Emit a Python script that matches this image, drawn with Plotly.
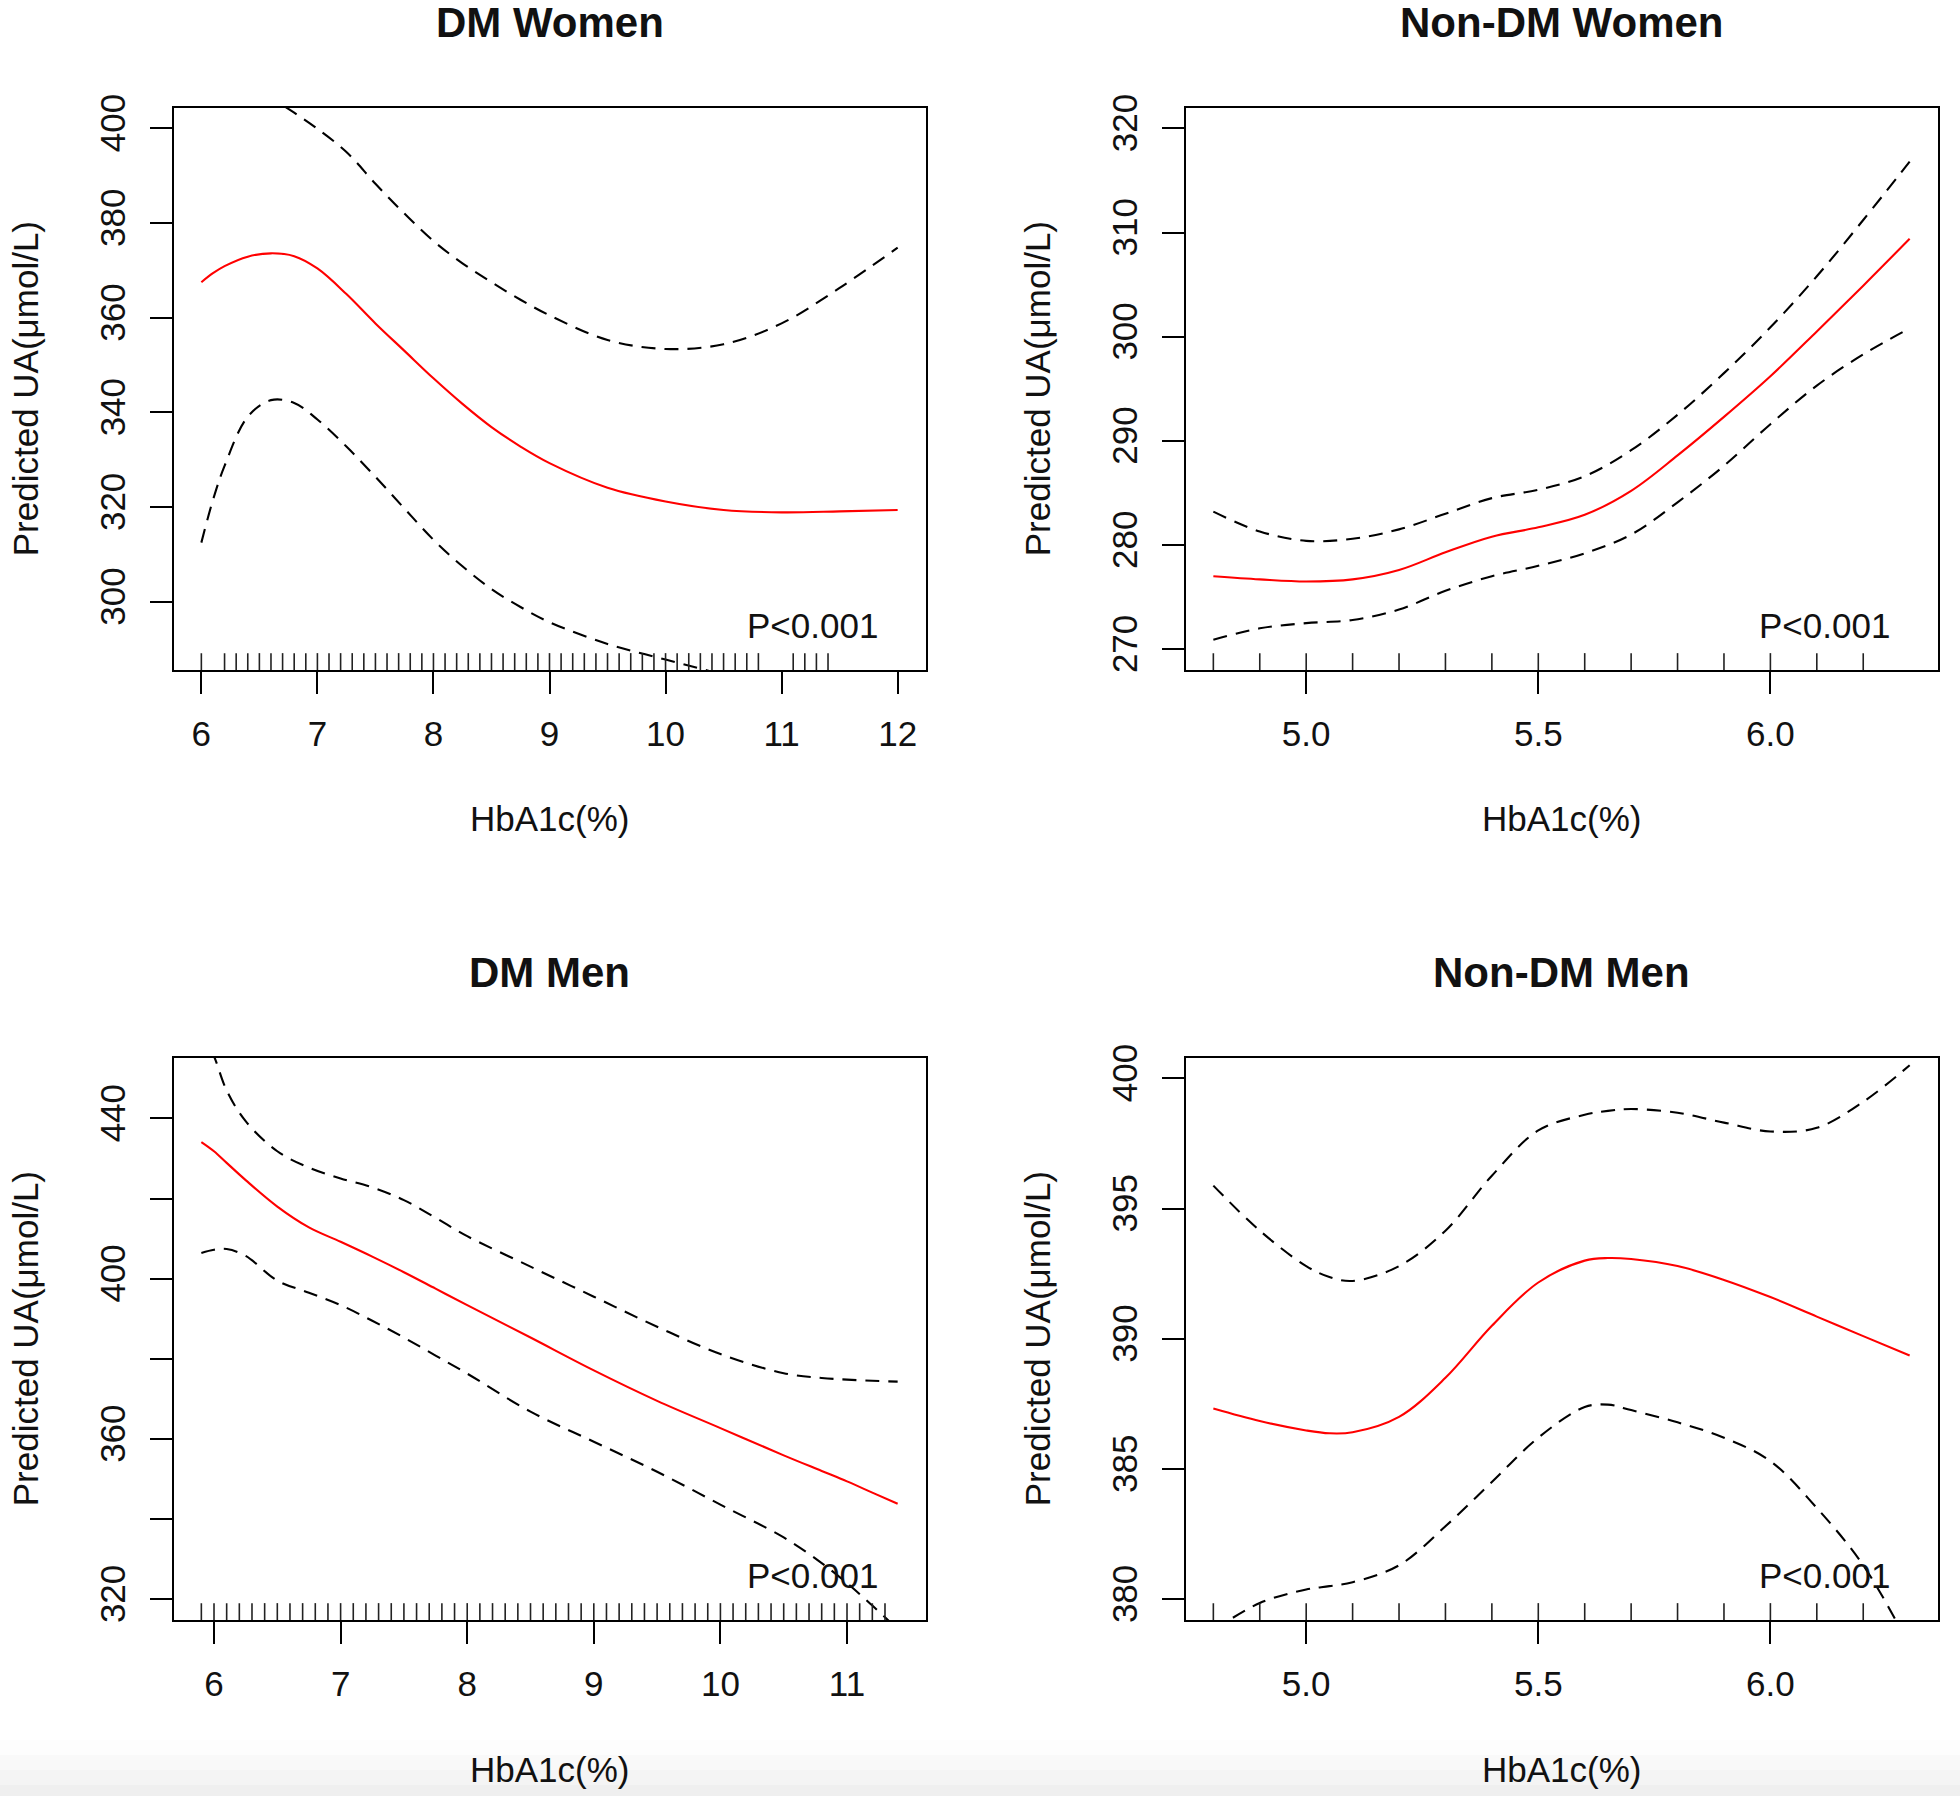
import plotly.graph_objects as go

# ---------------- data ----------------
titles = ["DM Women", "Non-DM Women", "DM Men", "Non-DM Men"]
x_label = "HbA1c(%)"
y_label = "Predicted UA(μmol/L)"
p_text = "P<0.001"

# DM Women
x1 = [6.0, 6.1, 6.2, 6.4, 6.6, 6.8, 7.0, 7.25, 7.5, 7.75, 8.0, 8.25, 8.5, 8.75, 9.0, 9.5, 10.0, 10.5, 11.0, 11.5, 12.0]
fit1 = [367.5, 369.4, 370.9, 372.9, 373.6, 373.0, 370.4, 365.0, 358.8, 353.0, 347.2, 341.8, 336.9, 332.8, 329.3, 324.1, 321.2, 319.4, 318.9, 319.1, 319.4]
up1 = [421.0, 418.0, 415.0, 410.0, 406.5, 403.3, 399.9, 395.0, 388.3, 382.0, 376.2, 371.5, 367.5, 363.8, 360.5, 355.3, 353.4, 354.4, 358.8, 366.3, 374.8]
lo1 = [312.5, 321.5, 328.7, 339.1, 342.6, 342.0, 338.5, 332.8, 326.4, 319.7, 313.1, 307.5, 302.7, 298.9, 295.7, 291.1, 287.8, 284.4, 279.0, 271.9, 264.0]
rug1 = [6.0, 6.2, 6.3, 6.4, 6.5, 6.6, 6.7, 6.8, 6.9, 7.0, 7.1, 7.2, 7.3, 7.4, 7.5, 7.6, 7.7, 7.8, 7.9,
        8.0, 8.1, 8.2, 8.3, 8.4, 8.5, 8.6, 8.7, 8.8, 8.9, 9.0, 9.1, 9.2, 9.3, 9.4, 9.5, 9.6, 9.7, 9.8,
        9.9, 10.0, 10.1, 10.2, 10.3, 10.4, 10.5, 10.6, 10.7, 10.8, 11.1, 11.2, 11.3, 11.4]
xt1 = [6, 7, 8, 9, 10, 11, 12]
yt1 = [300, 320, 340, 360, 380, 400]
yl1 = ["300", "320", "340", "360", "380", "400"]

# Non-DM Women
x2 = [4.8, 4.9, 5.0, 5.1, 5.2, 5.3, 5.4, 5.5, 5.6, 5.7, 5.8, 5.9, 6.0, 6.1, 6.2, 6.3]
fit2 = [277.0, 276.7, 276.5, 276.7, 277.6, 279.3, 280.8, 281.7, 282.9, 285.2, 288.6, 292.3, 296.2, 300.5, 304.9, 309.4]
up2 = [283.2, 281.3, 280.4, 280.6, 281.5, 283.0, 284.5, 285.3, 286.6, 289.1, 292.5, 296.5, 300.9, 305.8, 311.2, 316.8]
lo2 = [270.9, 272.0, 272.5, 272.8, 273.8, 275.6, 277.0, 278.0, 279.2, 281.0, 284.1, 287.6, 291.6, 295.3, 298.3, 300.8]
rug2 = [4.8, 4.9, 5.0, 5.1, 5.2, 5.3, 5.4, 5.5, 5.6, 5.7, 5.8, 5.9, 6.0, 6.1, 6.2]
xt2 = [5.0, 5.5, 6.0]
xl2 = ["5.0", "5.5", "6.0"]
yt2 = [270, 280, 290, 300, 310, 320]
yl2 = ["270", "280", "290", "300", "310", "320"]

# DM Men
x3 = [5.9, 6.0, 6.1, 6.25, 6.5, 6.75, 7.0, 7.25, 7.5, 7.75, 8.0, 8.5, 9.0, 9.5, 10.0, 10.5, 10.8, 11.0, 11.2, 11.4]
fit3 = [434.1, 431.8, 428.9, 424.6, 418.0, 412.8, 409.2, 405.5, 401.6, 397.5, 393.4, 385.3, 377.1, 369.5, 362.7, 355.9, 352.0, 349.4, 346.6, 343.8]
up3 = [462.0, 455.5, 447.0, 439.3, 431.8, 427.7, 425.0, 422.8, 419.6, 415.2, 410.6, 403.0, 395.5, 388.0, 381.2, 376.4, 375.2, 374.8, 374.5, 374.3]
lo3 = [406.4, 407.2, 407.4, 405.7, 399.5, 396.5, 393.4, 389.5, 385.3, 380.8, 376.3, 366.8, 359.3, 351.8, 343.6, 335.4, 329.0, 324.0, 318.4, 312.5]
rug3 = [5.9, 6.0, 6.1, 6.2, 6.3, 6.4, 6.5, 6.6, 6.7, 6.8, 6.9, 7.0, 7.1, 7.2, 7.3, 7.4, 7.5, 7.6, 7.7,
        7.8, 7.9, 8.0, 8.1, 8.2, 8.3, 8.4, 8.5, 8.6, 8.7, 8.8, 8.9, 9.0, 9.1, 9.2, 9.3, 9.4, 9.5, 9.6,
        9.7, 9.8, 9.9, 10.0, 10.1, 10.2, 10.3, 10.4, 10.5, 10.6, 10.7, 10.8, 10.9, 11.0, 11.1, 11.2, 11.3]
xt3 = [6, 7, 8, 9, 10, 11]
yt3 = [320, 340, 360, 380, 400, 420, 440]
yl3 = ["320", "", "360", "", "400", "", "440"]

# Non-DM Men
x4 = [4.8, 4.9, 5.0, 5.05, 5.1, 5.2, 5.3, 5.4, 5.5, 5.6, 5.65, 5.7, 5.8, 5.9, 6.0, 6.1, 6.2, 6.3]
fit4 = [387.32, 386.84, 386.48, 386.37, 386.41, 387.0, 388.5, 390.5, 392.16, 393.0, 393.1, 393.06, 392.79, 392.26, 391.6, 390.85, 390.1, 389.36]
up4 = [395.88, 394.15, 392.79, 392.37, 392.22, 392.79, 394.15, 396.26, 398.0, 398.6, 398.75, 398.82, 398.68, 398.3, 397.96, 398.1, 399.1, 400.5]
lo4 = [378.8, 379.85, 380.37, 380.5, 380.65, 381.3, 382.8, 384.5, 386.2, 387.38, 387.47, 387.26, 386.79, 386.2, 385.3, 383.5, 381.3, 378.2]
rug4 = [4.8, 4.9, 5.0, 5.1, 5.2, 5.3, 5.4, 5.5, 5.6, 5.7, 5.8, 5.9, 6.0, 6.1, 6.2]
yt4 = [380, 385, 390, 395, 400]
yl4 = ["380", "385", "390", "395", "400"]

# axis limits (R style: ylim with 4% expansion)
xlim = [(6, 12), (4.8, 6.3), (5.9, 11.4), (4.8, 6.3)]
ylim = [(290, 400), (270, 320), (320, 450), (380, 400)]

# ---------------- layout geometry (pixels) ----------------
W, H = 1960, 1799
FONT = "Liberation Sans, Arial, Helvetica, sans-serif"
BASE = 35
boxes = [  # left, right, top, bottom in page pixels
    (173.5, 925.5, 107.5, 670.0),
    (1185.5, 1937.5, 107.5, 670.0),
    (173.5, 925.5, 1057.5, 1620.0),
    (1185.5, 1937.5, 1057.5, 1620.0),
]


def px(x):
    return x / W


def py(y):
    return 1 - y / H


panels = [
    (x1, fit1, up1, lo1, rug1, xt1, [str(v) for v in xt1], yt1, yl1),
    (x2, fit2, up2, lo2, rug2, xt2, xl2, yt2, yl2),
    (x3, fit3, up3, lo3, rug3, xt3, [str(v) for v in xt3], yt3, yl3),
    (x4, fit4, up4, lo4, rug4, xt2, xl2, yt4, yl4),
]

fig = go.Figure()
layout = dict(
    width=W, height=H, margin=dict(l=0, r=0, t=0, b=0, pad=0, autoexpand=False),
    paper_bgcolor="white", plot_bgcolor="white", showlegend=False,
    font=dict(family=FONT, size=BASE, color="#111111"),
)
shapes = []
annotations = []

for i, (xs, fit, up, lo, rug, xt, xl, yt, yl) in enumerate(panels):
    n = "" if i == 0 else str(i + 1)
    xa, ya = "x" + n, "y" + n
    L, R, T, B = boxes[i]
    x0, x1_ = xlim[i]
    y0, y1_ = ylim[i]
    dx = (x1_ - x0) * 0.04
    dy = (y1_ - y0) * 0.04

    for ys, col, dash in ((up, "black", "14px,9px"), (lo, "black", "14px,9px"), (fit, "#ff0000", "solid")):
        fig.add_trace(go.Scatter(
            x=xs, y=ys, mode="lines", xaxis=xa, yaxis=ya,
            line=dict(color=col, width=2.1, dash=dash, shape="spline", smoothing=1.0),
            hoverinfo="skip",
        ))

    axis_common = dict(
        showgrid=False, zeroline=False, showline=True, linecolor="black", linewidth=2,
        mirror=True, ticks="outside", ticklen=22, tickwidth=2, tickcolor="black",
        automargin=False,
        tickfont=dict(family=FONT, size=BASE, color="#111111"),
    )
    layout["xaxis" + n] = dict(
        axis_common, domain=[px(L), px(R)], range=[x0 - dx, x1_ + dx],
        tickmode="array", tickvals=xt, ticktext=xl, anchor=ya,
        ticklabelstandoff=10,
    )
    layout["yaxis" + n] = dict(
        axis_common, domain=[py(B), py(T)], range=[y0 - dy, y1_ + dy],
        tickmode="array", tickvals=yt, ticktext=yl, anchor=xa,
        tickangle=-90, ticklabelstandoff=11,
    )

    # rug
    for v in rug:
        shapes.append(dict(type="line", xref=xa, yref=ya + " domain",
                           x0=v, x1=v, y0=0, y1=0.03,
                           line=dict(color="#222222", width=1.6)))

    # title
    annotations.append(dict(
        text="<b>" + titles[i] + "</b>", xref="paper", yref="paper",
        x=px((L + R) / 2), y=py(T - 85), xanchor="center", yanchor="middle",
        showarrow=False, font=dict(family=FONT, size=42, color="#111111"),
    ))
    # x axis title
    annotations.append(dict(
        text=x_label, xref="paper", yref="paper",
        x=px((L + R) / 2), y=py(B + 149), xanchor="center", yanchor="middle",
        showarrow=False, font=dict(family=FONT, size=BASE, color="#111111"),
    ))
    # y axis title
    annotations.append(dict(
        text=y_label, xref="paper", yref="paper", textangle=-90,
        x=px(L - 148), y=py((T + B) / 2), xanchor="center", yanchor="middle",
        showarrow=False, font=dict(family=FONT, size=BASE, color="#111111"),
    ))
    # p-value
    annotations.append(dict(
        text=p_text, xref=xa + " domain", yref=ya + " domain",
        x=0.94, y=0.08, xanchor="right", yanchor="middle",
        showarrow=False, font=dict(family=FONT, size=BASE, color="#111111"),
    ))

# faint gray band at the bottom of the screenshot
for (a, b, c) in ((1740, 1755, "#fdfdfd"), (1755, 1770, "#f9f9f9"),
                  (1770, 1785, "#f4f4f4"), (1785, 1796, "#efefef")):
    shapes.append(dict(type="rect", xref="paper", yref="paper", x0=0, x1=1,
                       y0=py(b), y1=py(a), fillcolor=c, line=dict(width=0), layer="below"))

layout["shapes"] = shapes
layout["annotations"] = annotations
fig.update_layout(**layout)

fig.write_html("out.html", config={"displayModeBar": False},
               post_script="document.body.style.margin='0';document.body.style.overflow='hidden';")
